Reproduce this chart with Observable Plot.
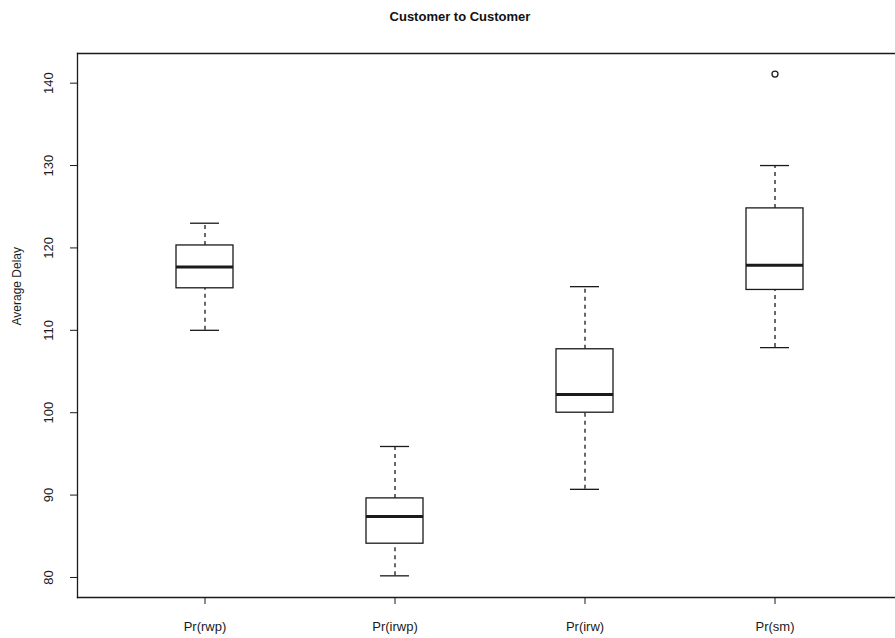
<!DOCTYPE html>
<html><head><meta charset="utf-8">
<script src="https://cdn.jsdelivr.net/npm/d3@7"></script>
<script src="https://cdn.jsdelivr.net/npm/@observablehq/plot@0.6"></script>
<style>
body{margin:0;background:#fff;font-family:"Liberation Sans",Arial,sans-serif;overflow:hidden;}
#title{position:absolute;left:0;top:8px;width:920px;text-align:center;font-weight:bold;font-size:13px;line-height:18px;color:#111;}
#chart{position:absolute;left:0;top:0;}
</style></head><body>
<div id="chart"></div>
<div id="title">Customer to Customer</div>
<script>
const categories = ["Pr(rwp)", "Pr(irwp)", "Pr(irw)", "Pr(sm)"];
const whiskerLow = [110.0, 80.2, 90.7, 107.9];
const q1 = [115.1, 84.1, 100.0, 114.9];
const median = [117.7, 87.4, 102.2, 117.9];
const q3 = [120.3, 89.6, 107.7, 124.8];
const whiskerHigh = [123.0, 95.9, 115.3, 130.0];
const outlierCategory = ["Pr(sm)"];
const outlierValue = [141.1];
const yTicks = [80, 90, 100, 110, 120, 130, 140];
const yLabel = "Average Delay";

const boxes = categories.map((c, i) => ({c, lo: whiskerLow[i], q1: q1[i], med: median[i], q3: q3[i], hi: whiskerHigh[i]}));
const outliers = outlierCategory.map((c, i) => ({c, v: outlierValue[i]}));
const ink = "#1a1a1a";

const chart = Plot.plot({
  width: 895,
  height: 638,
  marginLeft: 77,
  marginRight: 0,
  marginTop: 53,
  marginBottom: 41,
  style: {fontFamily: "'Liberation Sans', Arial, sans-serif", fontSize: "13px", background: "#fff", color: ink},
  x: {type: "band", domain: categories, range: [77, 902], paddingInner: 0.7, paddingOuter: 0.51, align: 0.5},
  y: {domain: [77.57, 143.6]},
  marks: [
    Plot.frame({anchor: "left", stroke: ink, strokeWidth: 1.3}),
    Plot.frame({anchor: "top", stroke: ink, strokeWidth: 1.3}),
    Plot.frame({anchor: "bottom", stroke: ink, strokeWidth: 1.3}),
    Plot.axisY({ticks: yTicks, tickSize: 7, tickPadding: 18, tickRotate: -90, label: null, stroke: ink, fill: ink}),
    Plot.axisX({tickSize: 7, tickPadding: 17, label: null, stroke: ink, fill: ink}),
    Plot.text([yLabel], {frameAnchor: "left", dx: -60, rotate: -90, text: d => d, fill: ink, fontSize: 12}),
    Plot.ruleX(boxes, {x: "c", y1: "q3", y2: "hi", stroke: ink, strokeWidth: 1.3, strokeDasharray: "4,4"}),
    Plot.ruleX(boxes, {x: "c", y1: "lo", y2: "q1", stroke: ink, strokeWidth: 1.3, strokeDasharray: "4,4"}),
    Plot.tickY(boxes, {x: "c", y: "hi", stroke: ink, strokeWidth: 1.3, insetLeft: 14, insetRight: 14}),
    Plot.tickY(boxes, {x: "c", y: "lo", stroke: ink, strokeWidth: 1.3, insetLeft: 14, insetRight: 14}),
    Plot.barY(boxes, {x: "c", y1: "q1", y2: "q3", fill: "#fff", stroke: ink, strokeWidth: 1.3}),
    Plot.tickY(boxes, {x: "c", y: "med", stroke: ink, strokeWidth: 3}),
    Plot.dot(outliers, {x: "c", y: "v", r: 3, stroke: ink, strokeWidth: 1.3, fill: "none"})
  ]
});
document.getElementById("chart").appendChild(chart);
</script>
</body></html>
